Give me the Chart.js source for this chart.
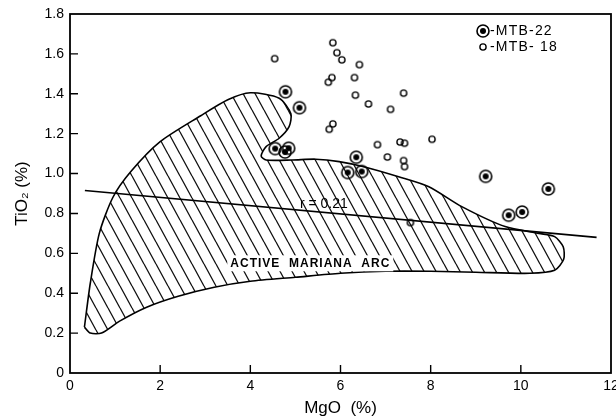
<!DOCTYPE html>
<html><head><meta charset="utf-8">
<script src="https://cdn.jsdelivr.net/npm/chart.js@4.4.0/dist/chart.umd.min.js"></script>
<style>html,body{margin:0;padding:0;background:#fff}#wrap{width:616px;height:419px}</style>
</head><body><div id="wrap"><canvas id="c" width="616" height="419"></canvas></div>
<script>
// ---- data ----
const xTickValues = [0, 2, 4, 6, 8, 10, 12];
const yTickValues = [0, 0.2, 0.4, 0.6, 0.8, 1.0, 1.2, 1.4, 1.6, 1.8];
const xTitle = 'MgO  (%)';
const yTitle = 'TiO\u2082 (%)';
const seriesNames = ['MTB-22', 'MTB- 18'];
// MTB-22 (circled dots): [MgO, TiO2]
const mtb22 = [[4.78,1.41],[5.09,1.33],[4.55,1.125],[4.77,1.108],[4.85,1.127],[6.35,1.082],[6.16,1.005],[6.47,1.01],[9.22,0.986],[10.61,0.923],[9.73,0.791],[10.03,0.807]];
// MTB-18 (open circles)
const mtb18 = [[5.83,1.656],[5.92,1.606],[6.03,1.57],[6.42,1.546],[4.54,1.576],[5.81,1.481],[5.73,1.458],[6.31,1.481],[6.33,1.393],[7.40,1.403],[6.62,1.349],[7.11,1.322],[5.83,1.249],[5.75,1.222],[6.82,1.145],[7.32,1.158],[7.42,1.152],[8.03,1.172],[7.04,1.083],[7.40,1.065],[7.42,1.035],[7.55,0.754]];
// Active Mariana Arc field outline
const arcField = [[0.32,0.23],[0.45,0.45],[0.65,0.70],[0.95,0.88],[1.35,1.01],[2.0,1.16],[2.9,1.29],[3.5,1.37],[4.0,1.405],[4.64,1.378],[4.90,1.30],[4.86,1.235],[4.64,1.177],[4.35,1.135],[4.24,1.088],[4.35,1.068],[4.93,1.068],[5.45,1.072],[5.97,1.06],[6.56,1.032],[7.29,0.984],[7.96,0.934],[8.69,0.834],[9.65,0.734],[10.4,0.70],[10.75,0.684],[10.94,0.633],[10.95,0.57],[10.75,0.515],[10.2,0.50],[9.0,0.505],[8.0,0.51],[7.0,0.51],[6.0,0.50],[5.0,0.48],[4.0,0.46],[3.2,0.43],[2.4,0.385],[1.7,0.33],[1.1,0.26],[0.7,0.2],[0.45,0.2],[0.32,0.23]];
// regression line ends
const regression = [[0.33,0.915],[11.68,0.68]];
const rLabel = {text: 'r = 0.21', x: 5.63, y: 0.845};
const arcLabel = {text: 'ACTIVE  MARIANA  ARC', x: 5.33, y: 0.55};

// ---- styles ----
function hatchPattern(){
  const w = 12, h = 22;
  const c = document.createElement('canvas'); c.width = w; c.height = h;
  const g = c.getContext('2d');
  g.strokeStyle = '#111'; g.lineWidth = 1.3;
  g.beginPath();
  for (const k of [-w, 0, w]) { g.moveTo(k, 0); g.lineTo(k + w, h); }
  g.stroke();
  return g.createPattern(c, 'repeat');
}
function dotCircle(){
  const c = document.createElement('canvas'); c.width = 16; c.height = 16;
  const g = c.getContext('2d');
  g.strokeStyle = '#000'; g.lineWidth = 1.6;
  g.beginPath(); g.arc(8, 8, 6, 0, Math.PI*2); g.stroke();
  g.fillStyle = '#000';
  g.beginPath(); g.arc(8, 8, 3, 0, Math.PI*2); g.fill();
  return c;
}
function openCircle(){
  const c = document.createElement('canvas'); c.width = 10; c.height = 10;
  const g = c.getContext('2d');
  g.strokeStyle = '#000'; g.lineWidth = 1.4;
  g.beginPath(); g.arc(5, 5, 3.1, 0, Math.PI*2); g.stroke();
  return c;
}
const imgDot = dotCircle();
const imgOpen = openCircle();
const FONT = '"Liberation Sans", Arial, sans-serif';
const toXY = a => a.map(p => ({x: p[0], y: p[1]}));

const decor = {
  id: 'decor',
  beforeDatasetsDraw(chart) {
    const {ctx, chartArea: a} = chart;
    ctx.save();
    ctx.strokeStyle = '#000'; ctx.lineWidth = 1.8;
    ctx.strokeRect(a.left, a.top, a.right - a.left, a.bottom - a.top);
    ctx.lineWidth = 1.4;
    const xs = chart.scales.x, ys = chart.scales.y;
    ctx.beginPath();
    for (const v of xTickValues.slice(1, -1)) { const px = xs.getPixelForValue(v); ctx.moveTo(px, a.bottom); ctx.lineTo(px, a.bottom - 8); }
    for (const v of yTickValues.slice(1, -1)) { const py = ys.getPixelForValue(v); ctx.moveTo(a.left, py); ctx.lineTo(a.left + 8, py); }
    ctx.stroke();
    ctx.restore();
  },
  afterDatasetsDraw(chart) {
    const {ctx} = chart;
    const xs = chart.scales.x, ys = chart.scales.y;
    ctx.save();
    ctx.fillStyle = '#000';
    ctx.textAlign = 'center'; ctx.textBaseline = 'middle';
    // arc label on white
    ctx.font = 'bold 12px ' + FONT;
    try { ctx.letterSpacing = '1px'; } catch(e) {}
    const ax = xs.getPixelForValue(arcLabel.x), ay = ys.getPixelForValue(arcLabel.y);
    const tw = ctx.measureText(arcLabel.text).width;
    ctx.fillStyle = '#fff'; ctx.fillRect(ax - tw/2 - 3, ay - 8, tw + 6, 16);
    ctx.fillStyle = '#000'; ctx.fillText(arcLabel.text, ax, ay);
    // r label
    ctx.font = '14px ' + FONT;
    try { ctx.letterSpacing = '0px'; } catch(e) {}
    const rx = xs.getPixelForValue(rLabel.x), ry = ys.getPixelForValue(rLabel.y);
    ctx.fillText(rLabel.text, rx, ry);
    // legend
    ctx.font = '14px ' + FONT;
    try { ctx.letterSpacing = '1.2px'; } catch(e) {}
    ctx.textAlign = 'left';
    const lx = 483, l1 = 31, l2 = 47;
    ctx.drawImage(imgDot, lx - 8, l1 - 8);
    ctx.fillText('-' + seriesNames[0], lx + 7, l1);
    ctx.drawImage(imgOpen, lx - 5, l2 - 5);
    ctx.fillText('-' + seriesNames[1], lx + 7, l2);
    ctx.restore();
  }
};

new Chart(document.getElementById('c'), {
  type: 'scatter',
  data: {
    datasets: [
      {label: seriesNames[0], data: toXY(mtb22), pointStyle: imgDot, order: 0},
      {label: seriesNames[1], data: toXY(mtb18), pointStyle: imgOpen, order: 1},
      {label: 'r', data: toXY(regression), showLine: true, borderColor: '#000', borderWidth: 1.6, pointRadius: 0, order: 2},
      {label: 'field', data: toXY(arcField), showLine: true, tension: 0.25, borderColor: '#000', borderWidth: 1.6,
       backgroundColor: hatchPattern(), fill: 'shape', pointRadius: 0, order: 3}
    ]
  },
  options: {
    responsive: false, animation: false, devicePixelRatio: 1,
    layout: {padding: {left: 0, right: 3, top: 14, bottom: 0}},
    plugins: {legend: {display: false}, tooltip: {enabled: false}},
    scales: {
      x: {
        type: 'linear', min: 0, max: 12,
        afterBuildTicks: s => { s.ticks = xTickValues.map(v => ({value: v})); },
        afterFit: s => { s.height = 46; s.paddingLeft = 0; s.paddingRight = 0; },
        ticks: {color: '#000', padding: 5, maxRotation: 0, font: {family: FONT, size: 14}, callback: v => String(v)},
        grid: {display: true, drawOnChartArea: false, drawTicks: false},
        border: {display: false},
        title: {display: true, text: xTitle, color: '#000', font: {family: FONT, size: 17}, padding: {top: 0, bottom: 0}}
      },
      y: {
        type: 'linear', min: 0, max: 1.8,
        afterBuildTicks: s => { s.ticks = yTickValues.map(v => ({value: v})); },
        afterFit: s => { s.width = 70; s.paddingTop = 0; s.paddingBottom = 0; },
        ticks: {color: '#000', padding: 6, font: {family: FONT, size: 14}, callback: v => v === 0 ? '0' : v.toFixed(1)},
        grid: {display: true, drawOnChartArea: false, drawTicks: false},
        border: {display: false},
        title: {display: true, text: yTitle, color: '#000', font: {family: FONT, size: 17}, padding: {top: 12, bottom: 0}}
      }
    }
  },
  plugins: [decor]
});
</script>
</body></html>
